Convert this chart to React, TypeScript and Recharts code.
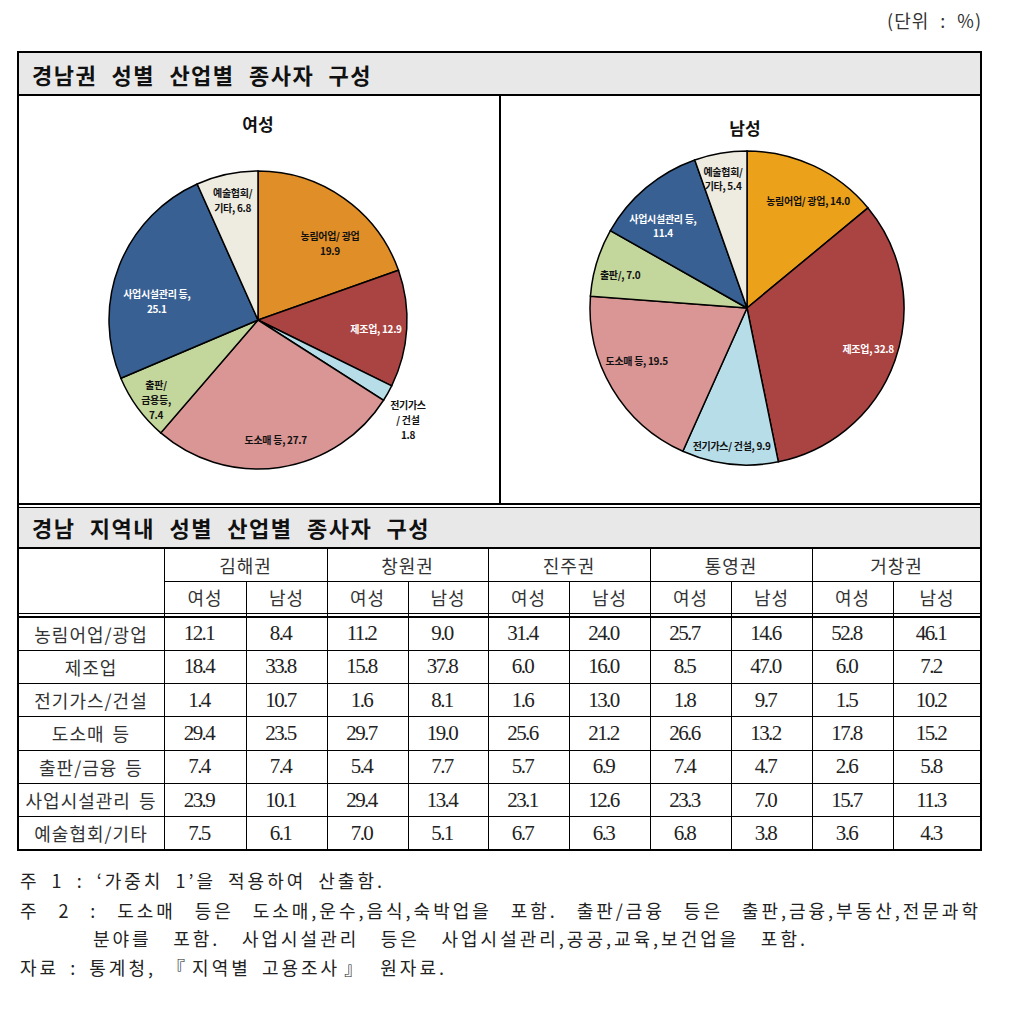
import React from 'react';
import { PieChart, Pie, Cell } from 'recharts';

// ---------- data ----------
const industries = ['농림어업/광업', '제조업', '전기가스/건설', '도소매 등', '출판/금융 등', '사업시설관리 등', '예술협회/기타'];
const femaleShares = [19.9, 12.9, 1.8, 27.7, 7.4, 25.1, 6.8];
const maleShares = [14.0, 32.8, 9.9, 19.5, 7.0, 11.4, 5.4];

const femaleLabelText = [
  ['농림어업/ 광업', '{v}'],
  ['제조업, {v}'],
  ['전기가스', '/ 건설', '{v}'],
  ['도소매 등, {v}'],
  ['출판/', '금용등,', '{v}'],
  ['사업시설관리 등,', '{v}'],
  ['예술협회/', '기타, {v}'],
];
const maleLabelText = [
  ['농림어업/ 광업, {v}'],
  ['제조업, {v}'],
  ['전기가스/ 건설, {v}'],
  ['도소매 등, {v}'],
  ['출판/, {v}'],
  ['사업시설관리 등,', '{v}'],
  ['예술협회/', '기타, {v}'],
];

const regions = ['김해권', '창원권', '진주권', '통영권', '거창권'];
const sexes = ['여성', '남성'];
const gimhaeF = [12.1, 18.4, 1.4, 29.4, 7.4, 23.9, 7.5];
const gimhaeM = [8.4, 33.8, 10.7, 23.5, 7.4, 10.1, 6.1];
const changwonF = [11.2, 15.8, 1.6, 29.7, 5.4, 29.4, 7.0];
const changwonM = [9.0, 37.8, 8.1, 19.0, 7.7, 13.4, 5.1];
const jinjuF = [31.4, 6.0, 1.6, 25.6, 5.7, 23.1, 6.7];
const jinjuM = [24.0, 16.0, 13.0, 21.2, 6.9, 12.6, 6.3];
const tongyeongF = [25.7, 8.5, 1.8, 26.6, 7.4, 23.3, 6.8];
const tongyeongM = [14.6, 47.0, 9.7, 13.2, 4.7, 7.0, 3.8];
const geochangF = [52.8, 6.0, 1.5, 17.8, 2.6, 15.7, 3.6];
const geochangM = [46.1, 7.2, 10.2, 15.2, 5.8, 11.3, 4.3];

const unitText = '(단위 : %)';
const pieSectionTitle = '경남권 성별 산업별 종사자 구성';
const tableSectionTitle = '경남 지역내 성별 산업별 종사자 구성';
const notes = [
  '주 1 : ‘가중치 1’을 적용하여 산출함.',
  '주 2 : 도소매 등은 도소매,운수,음식,숙박업을 포함. 출판/금융 등은 출판,금융,부동산,전문과학',
  '분야를 포함. 사업시설관리 등은 사업시설관리,공공,교육,보건업을 포함.',
  '자료 : 통계청, 『지역별 고용조사』 원자료.',
];

// ---------- styles ----------
const SANS = '"Noto Sans CJK KR", "Noto Sans", sans-serif';
const NUM = '"Liberation Serif", "Noto Sans CJK KR", serif';
const femaleColors = ['#E08E28', '#AA4442', '#B7DDE8', '#D99694', '#C3D69B', '#386092', '#EEECE1'];
const maleColors = ['#ECA11B', '#AA4442', '#B7DDE8', '#D99694', '#C3D69B', '#386092', '#EEECE1'];
const labelColors = ['#111', '#fff', '#111', '#111', '#111', '#fff', '#111'];
const femaleLayout = [
  { r: 0.705, shift: 8 }, { r: 0.795, shift: 1.4 }, { r: 1.21, shift: 4.3 }, { r: 0.82, shift: 0 },
  { r: 0.87, shift: -2 }, { r: 0.69, shift: -11.4 }, { r: 0.815, shift: 0 },
];
const maleLayout = [
  { r: 0.78, shift: 4.7 }, { r: 0.815, shift: -0.7 }, { r: 0.89, shift: 0 }, { r: 0.78, shift: 5.1 },
  { r: 0.835, shift: -2.3 }, { r: 0.745, shift: -6 }, { r: 0.835, shift: -0.8 },
];

const colX = [18, 164, 246, 327, 408, 488, 569, 650, 731, 812, 893, 981];
const RAD = Math.PI / 180;

function makeLabel(lines: string[][], layout: { r: number; shift: number }[], lh: number) {
  return (props: any) => {
    const { cx, cy, midAngle, outerRadius, index, value } = props;
    const { r, shift } = layout[index];
    const ang = (midAngle - shift) * RAD;
    const x = cx + outerRadius * r * Math.cos(ang);
    const y = cy - outerRadius * r * Math.sin(ang);
    const txt = lines[index].map((l) => l.replace('{v}', Number(value).toFixed(1)));
    const y0 = y - ((txt.length - 1) * lh) / 2 + 3.6;
    return (
      <text key={`lab${index}`} x={x} y={y0} textAnchor="middle" fill={labelColors[index]} fontSize={10} fontWeight={700} fontFamily={SANS} letterSpacing={-0.3}>
        {txt.map((t, i) => (
          <tspan key={i} x={x} y={y0 + i * lh}>{t}</tspan>
        ))}
      </text>
    );
  };
}

const HL = ({ x1, x2, y, t = 1 }: any) => (
  <div style={{ position: 'absolute', left: x1, top: y - t / 2, width: x2 - x1, height: t, background: '#000' }} />
);
const VL = ({ x, y1, y2, t = 1 }: any) => (
  <div style={{ position: 'absolute', left: x - t / 2, top: y1, width: t, height: y2 - y1, background: '#000' }} />
);

const Cellbox = ({ x1, x2, y1, y2, children, style }: any) => (
  <div style={{ position: 'absolute', left: x1, top: y1, width: x2 - x1, height: y2 - y1, display: 'flex', alignItems: 'center', justifyContent: 'center', ...style }}>
    {children}
  </div>
);

const JustLine = ({ x, y, w, text, size, weight = 400, color = '#222', ls = 0 }: any) => (
  <div style={{ position: 'absolute', left: x, top: y - 15, width: w, height: 30, lineHeight: '30px', fontSize: size, fontWeight: weight, color, textAlign: 'justify', textAlignLast: 'justify', letterSpacing: ls, fontFamily: SANS }}>
    {text}
  </div>
);

export default function App() {
  const femaleData = industries.map((name, i) => ({ name, value: femaleShares[i] }));
  const maleData = industries.map((name, i) => ({ name, value: maleShares[i] }));
  const columns = [gimhaeF, gimhaeM, changwonF, changwonM, jinjuF, jinjuM, tongyeongF, tongyeongM, geochangF, geochangM];

  const tableTop = 548;
  const row1 = 581;
  const row2 = 613;
  const dataTop = 617;
  const bottom = 850;
  const rh = (bottom - dataTop) / industries.length;

  return (
    <div style={{ position: 'absolute', left: 0, top: 0, width: 1017, height: 1018, background: '#fff', fontFamily: SANS, overflow: 'hidden' }}>
      {/* unit */}
      <div style={{ position: 'absolute', right: 1017 - 982, top: 6, fontSize: 18, color: '#333', letterSpacing: 1, wordSpacing: 6, lineHeight: '28px' }}>{unitText}</div>

      {/* gray header bands */}
      <div style={{ position: 'absolute', left: 18, top: 52, width: 963, height: 43, background: '#E8E8E8' }} />
      <div style={{ position: 'absolute', left: 18, top: 507, width: 963, height: 41, background: '#E8E8E8' }} />
      <JustLine x={32} y={74} w={340} text={pieSectionTitle} size={22} weight={700} color="#111" ls={1.5} />
      <JustLine x={32} y={527} w={398} text={tableSectionTitle} size={22} weight={700} color="#111" ls={1.5} />

      {/* pies */}
      <div style={{ position: 'absolute', left: 18, top: 95, width: 482, height: 409 }}>
        <PieChart width={482} height={409} margin={{ top: 0, right: 0, bottom: 0, left: 0 }}>
          <Pie data={femaleData} dataKey="value" nameKey="name" cx={240} cy={225} outerRadius={149} startAngle={90} endAngle={-270}
            stroke="#000" strokeWidth={1.5} isAnimationActive={false} labelLine={false}
            label={makeLabel(femaleLabelText, femaleLayout, 15)}>
            {femaleData.map((d, i) => <Cell key={d.name} fill={femaleColors[i]} />)}
          </Pie>
        </PieChart>
      </div>
      <div style={{ position: 'absolute', left: 500, top: 95, width: 481, height: 409 }}>
        <PieChart width={481} height={409} margin={{ top: 0, right: 0, bottom: 0, left: 0 }}>
          <Pie data={maleData} dataKey="value" nameKey="name" cx={247} cy={213} outerRadius={157} startAngle={90} endAngle={-270}
            stroke="#000" strokeWidth={1.5} isAnimationActive={false} labelLine={false}
            label={makeLabel(maleLabelText, maleLayout, 14)}>
            {maleData.map((d, i) => <Cell key={d.name} fill={maleColors[i]} />)}
          </Pie>
        </PieChart>
      </div>
      <div style={{ position: 'absolute', left: 218, top: 112, width: 80, textAlign: 'center', fontSize: 17, fontWeight: 700, color: '#111', lineHeight: '24px' }}>{sexes[0]}</div>
      <div style={{ position: 'absolute', left: 705, top: 116, width: 80, textAlign: 'center', fontSize: 17, fontWeight: 700, color: '#111', lineHeight: '24px' }}>{sexes[1]}</div>

      {/* table header cells */}
      {regions.map((r, i) => (
        <Cellbox key={r} x1={colX[1 + i * 2]} x2={colX[3 + i * 2]} y1={tableTop} y2={row1} style={{ fontSize: 18, color: '#333', letterSpacing: 1 }}>{r}</Cellbox>
      ))}
      {regions.map((r, i) =>
        sexes.map((s, j) => (
          <Cellbox key={r + s} x1={colX[1 + i * 2 + j]} x2={colX[2 + i * 2 + j]} y1={row1} y2={row2} style={{ fontSize: 18, color: '#333', letterSpacing: 1 }}>{s}</Cellbox>
        ))
      )}
      {industries.map((name, ri) => (
        <Cellbox key={name} x1={colX[0]} x2={colX[1]} y1={dataTop + ri * rh} y2={dataTop + (ri + 1) * rh} style={{ fontSize: 18, color: '#333', letterSpacing: 1, wordSpacing: 3 }}>{name}</Cellbox>
      ))}
      {columns.map((col, ci) =>
        col.map((v, ri) => (
          <Cellbox key={`${ci}-${ri}`} x1={colX[1 + ci]} x2={colX[2 + ci]} y1={dataTop + ri * rh} y2={dataTop + (ri + 1) * rh}
            style={{ fontSize: 21, fontFamily: NUM, color: '#222', letterSpacing: -1.6, paddingRight: 12, boxSizing: 'border-box' }}>{v.toFixed(1)}</Cellbox>
        ))
      )}

      {/* lines */}
      <HL x1={17} x2={982} y={52} t={2} />
      <VL x={18} y1={51} y2={851} t={2} />
      <VL x={981} y1={51} y2={851} t={2} />
      <HL x1={17} x2={982} y={850} t={2} />
      <HL x1={18} x2={981} y={95} t={1.5} />
      <VL x={500} y1={95} y2={504} t={1.5} />
      <HL x1={18} x2={981} y={504} t={1.5} />
      <HL x1={18} x2={981} y={507.5} t={1.5} />
      <HL x1={18} x2={981} y={548} t={1.5} />
      <HL x1={164} x2={981} y={581} t={1} />
      <HL x1={18} x2={981} y={613.5} t={1.5} />
      <HL x1={18} x2={981} y={617} t={1.5} />
      {industries.slice(1).map((_, i) => (
        <HL key={`rl${i}`} x1={18} x2={981} y={dataTop + (i + 1) * rh} t={1} />
      ))}
      {[1, 3, 5, 7, 9].map((k) => <VL key={`vr${k}`} x={colX[k]} y1={548} y2={850} t={1} />)}
      {[2, 4, 6, 8, 10].map((k) => <VL key={`vs${k}`} x={colX[k]} y1={581} y2={850} t={1} />)}

      {/* notes */}
      <JustLine x={20} y={880} w={365} text={notes[0]} size={18} color="#222" ls={3} />
      <JustLine x={20} y={910} w={961} text={notes[1]} size={18} color="#222" ls={3} />
      <JustLine x={93} y={938} w={715} text={notes[2]} size={18} color="#222" ls={3} />
      <JustLine x={20} y={967} w={427} text={notes[3]} size={18} color="#222" ls={3} />
    </div>
  );
}
